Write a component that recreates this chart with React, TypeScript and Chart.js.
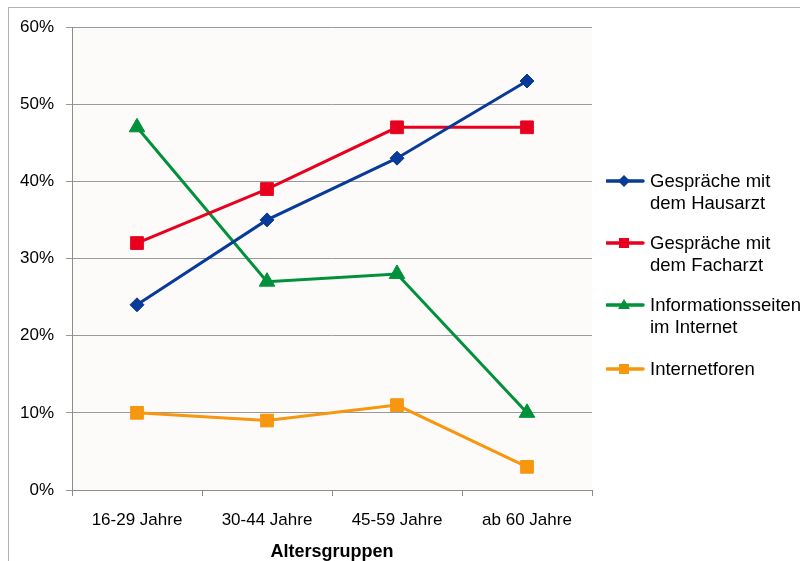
import React, { useEffect, useRef } from "react";
import { Chart, registerables } from "chart.js";

Chart.register(...registerables);

const categories = ["16-29 Jahre", "30-44 Jahre", "45-59 Jahre", "ab 60 Jahre"];
const hausarzt = [24, 35, 43, 53];
const facharzt = [32, 39, 47, 47];
const infoseiten = [47, 27, 28, 10];
const foren = [10, 9, 11, 3];
const seriesNames = [
  ["Gespräche mit", "dem Hausarzt"],
  ["Gespräche mit", "dem Facharzt"],
  ["Informationsseiten", "im Internet"],
  ["Internetforen"],
];
const colors = ["#0a3a98", "#e8001f", "#00913a", "#f7960f"];
const markers = ["rectRot", "rect", "triangle", "rect"];
const xTitle = "Altersgruppen";

const FONT = "'Liberation Sans', Arial, sans-serif";

const bgPlugin = {
  id: "plotBg",
  beforeDraw(chart: any) {
    const { ctx, chartArea } = chart;
    if (!chartArea) return;
    ctx.save();
    ctx.fillStyle = "#fcfbfa";
    ctx.fillRect(chartArea.left, chartArea.top, chartArea.right - chartArea.left, chartArea.bottom - chartArea.top);
    ctx.restore();
  },
};

function LegendMarker({ color, shape }: { color: string; shape: string }) {
  let m: React.ReactNode = null;
  if (shape === "rectRot") m = <polygon points="18,14 24,20 18,26 12,20" fill={color} />;
  else if (shape === "triangle") m = <polygon points="18,14 24,24 12,24" fill={color} />;
  else m = <rect x={13} y={15} width={10} height={10} fill={color} />;
  return (
    <svg width={40} height={40} style={{ position: "absolute", left: 0, top: 0 }}>
      <line x1={1} y1={20} x2={37} y2={20} stroke={color} strokeWidth={3.5} strokeLinecap="round" />
      {m}
    </svg>
  );
}

export default function App() {
  const ref = useRef<HTMLCanvasElement | null>(null);
  useEffect(() => {
    if (!ref.current) return;
    const data = [hausarzt, facharzt, infoseiten, foren];
    const radii = [7, 9, 9, 9];
    const chart = new Chart(ref.current, {
      type: "line",
      data: {
        labels: categories,
        datasets: data.map((d, i) => ({
          label: seriesNames[i].join(" "),
          data: d,
          borderColor: colors[i],
          backgroundColor: colors[i],
          borderWidth: 3,
          pointStyle: markers[i] as any,
          pointRadius: radii[i],
          pointBorderWidth: 1,
          pointBorderColor: colors[i],
          pointBackgroundColor: colors[i],
          tension: 0,
        })),
      },
      options: {
        animation: false,
        responsive: false,
        maintainAspectRatio: false,
        layout: { padding: { top: 27, right: 208, left: 0, bottom: 0 } },
        plugins: { legend: { display: false }, tooltip: { enabled: false } },
        scales: {
          x: {
            offset: true,
            grid: { offset: true, drawOnChartArea: false, drawTicks: true, tickLength: 6, color: "#8c8c8c" },
            border: { color: "#8c8c8c", width: 1 },
            ticks: { color: "#000", font: { family: FONT, size: 17 }, padding: 14, maxRotation: 0 },
            title: { display: true, text: xTitle, color: "#000", font: { family: FONT, size: 18, weight: "bold" }, padding: { top: 0, bottom: -2 } },
            afterFit(scale: any) { scale.height = 71; },
          },
          y: {
            min: 0,
            max: 60,
            ticks: { stepSize: 10, color: "#000", font: { family: FONT, size: 17 }, padding: 12, callback: (v: any) => v + "%" },
            grid: { color: "#9a9a9a", lineWidth: 1, drawTicks: true, tickLength: 6 },
            border: { color: "#8c8c8c", width: 1 },
            afterFit(scale: any) { scale.width = 72; },
          },
        },
      },
      plugins: [bgPlugin],
    });
    return () => chart.destroy();
  }, []);

  const legendY = [181, 243, 305, 369];

  return (
    <div style={{ position: "fixed", left: 0, top: 0, width: 800, height: 561, overflow: "hidden", background: "#fff", fontFamily: FONT }}>
      <div style={{ position: "absolute", left: 8, top: 7, width: 1000, height: 1000, border: "1px solid #b4b4b4", boxSizing: "border-box" }} />
      <canvas ref={ref} width={800} height={561} style={{ position: "absolute", left: 0, top: 0, width: 800, height: 561 }} />
      {seriesNames.map((lines, i) => (
        <div key={i} style={{ position: "absolute", left: 606, top: legendY[i] - 20, width: 300, height: 60 }}>
          <LegendMarker color={colors[i]} shape={markers[i]} />
          <div style={{ position: "absolute", left: 44, top: 9, fontSize: 18.5, lineHeight: "22px", color: "#000", whiteSpace: "nowrap" }}>
            {lines.map((l, j) => (
              <div key={j}>{l}</div>
            ))}
          </div>
        </div>
      ))}
    </div>
  );
}
